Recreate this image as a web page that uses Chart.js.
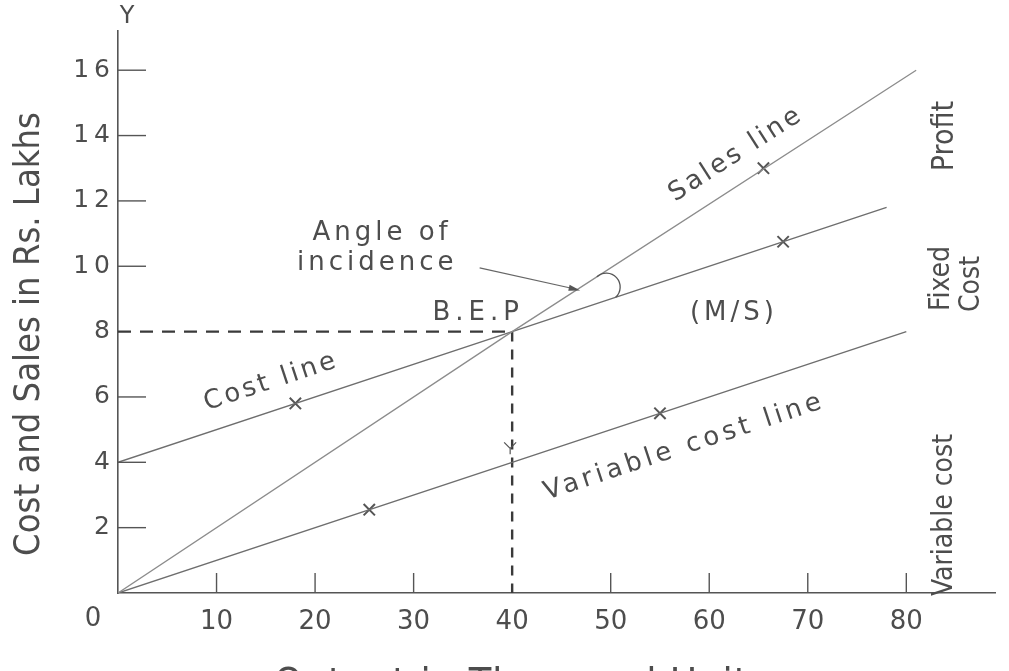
<!DOCTYPE html>
<html>
<head>
<meta charset="utf-8">
<script src="https://cdn.jsdelivr.net/npm/chart.js@4.4.1/dist/chart.umd.min.js"></script>
<style>
  html, body { margin: 0; background: #fff; }
  #wrap { width: 1009px; height: 671px; }
</style>
</head>
<body>
<div id="wrap"><canvas id="bep"></canvas></div>
<script>
// Break-even chart: output (thousand units) vs cost and sales (Rs. lakhs)
const salesX = [0, 40, 81];
const salesY = [0, 8, 16];
const costX = [0, 40, 78];
const costY = [4, 8, 11.8];
const varCostX = [0, 40, 80];
const varCostY = [0, 4, 8];
const bepPoint = [40, 8];
const markX = [18, 67.5, 65.5, 25.5, 55];
const markY = [5.8, 10.75, 13, 2.55, 5.5];
const xTickLabels = [10, 20, 30, 40, 50, 60, 70, 80];
const yTickLabels = [2, 4, 6, 8, 10, 12, 14, 16];

const ink = '#4d4d4d';
const narrow = '"Liberation Sans Narrow", "DejaVu Sans Condensed", "Liberation Sans", sans-serif';
const wide = '"DejaVu Sans", sans-serif';

const pts = (xs, ys) => xs.map((v, i) => ({ x: v, y: ys[i] }));

// draws one piece of text, optionally rotated, with letter spacing
function text(ctx, s, x, y, opt) {
  ctx.save();
  ctx.translate(x, y);
  ctx.rotate(((opt.angle || 0) * Math.PI) / 180);
  ctx.font = opt.font;
  ctx.fillStyle = opt.color || ink;
  ctx.textAlign = opt.align || 'center';
  ctx.textBaseline = opt.baseline || 'middle';
  ctx.letterSpacing = (opt.spacing || 0) + 'px';
  let dx = 0;
  if ((opt.align || 'center') === 'center') dx = (opt.spacing || 0) / 2;
  if (opt.align === 'right') dx = opt.spacing || 0;
  ctx.fillText(s, dx, 0);
  ctx.restore();
}

const overlay = {
  id: 'overlay',
  afterDraw(chart) {
    const { ctx, chartArea: a } = chart;
    const xs = chart.scales.x, ys = chart.scales.y;
    const px = v => xs.getPixelForValue(v);
    const py = v => ys.getPixelForValue(v);

    ctx.save();
    ctx.strokeStyle = '#555';
    ctx.lineWidth = 1.4;
    ctx.lineCap = 'butt';

    // tick marks drawn inside the plot
    yTickLabels.forEach(v => {
      if (v === 8) return;
      ctx.beginPath();
      ctx.moveTo(a.left, py(v));
      ctx.lineTo(a.left + 28, py(v));
      ctx.stroke();
    });
    xTickLabels.forEach(v => {
      ctx.beginPath();
      ctx.moveTo(px(v), a.bottom);
      ctx.lineTo(px(v), a.bottom - (v === 40 ? 0 : 20));
      ctx.stroke();
    });

    // y tick labels, spaced out as in the print
    yTickLabels.forEach(v => {
      text(ctx, String(v), a.left - 8, py(v), { font: '25px ' + wide, align: 'right', spacing: 5 });
    });
    text(ctx, '0', a.left - 25, a.bottom + 26, { font: '26px ' + wide });
    text(ctx, 'Y', a.left + 9, 17, { font: '24px ' + wide });

    // axis titles
    text(ctx, 'Cost and Sales in Rs. Lakhs', 30, 334, { font: '36px ' + narrow, angle: -90 });
    text(ctx, 'Output in Thousand Units', 521, 697, { font: '41px ' + narrow, baseline: 'alphabetic', spacing: 1 });

    // line labels
    const slope = (x0, y0, x1, y1) => (Math.atan2(py(y1) - py(y0), px(x1) - px(x0)) * 180) / Math.PI;
    const salesAng = slope(salesX[1], salesY[1], salesX[2], salesY[2]);
    const costAng = slope(costX[0], costY[0], costX[2], costY[2]);
    const varAng = slope(varCostX[0], varCostY[0], varCostX[2], varCostY[2]);
    const lbl = '26px ' + wide;
    text(ctx, 'Sales line', px(62.6), py(13.4), { font: lbl, angle: salesAng, spacing: 3 });
    text(ctx, 'Cost line', px(15.4), py(6.45), { font: lbl, angle: costAng, spacing: 3 });
    text(ctx, 'Variable cost line', px(57.3), py(4.45), { font: lbl, angle: varAng, spacing: 4 });
    text(ctx, 'Angle of', px(26.6), py(11.0), { font: lbl, spacing: 4 });
    text(ctx, 'incidence', px(26.1), py(10.1), { font: lbl, spacing: 4 });
    text(ctx, 'B.E.P', px(36.3), py(8.55), { font: lbl, spacing: 5 });
    text(ctx, '(M/S)', px(62.3), py(8.55), { font: lbl, spacing: 4 });

    // right-hand margin labels
    const side = '28px ' + narrow;
    text(ctx, 'Profit', 945, 136, { font: '30px ' + narrow, angle: -90 });
    text(ctx, 'Fixed', 942, 311, { font: side, angle: -90, align: 'left' });
    text(ctx, 'Cost', 972, 312, { font: side, angle: -90, align: 'left' });
    text(ctx, 'Variable cost', 945, 596, { font: side, angle: -90, align: 'left' });

    // angle of incidence pointer with arrow head on the sales line
    const salesAt = v => salesY[1] + (v - salesX[1]) * (salesY[2] - salesY[1]) / (salesX[2] - salesX[1]);
    const costAt = v => costY[1] + (v - costX[1]) * (costY[2] - costY[1]) / (costX[2] - costX[1]);
    const sx = px(36.7), sy = py(9.95);
    const ex = px(46.6), ey = py(salesAt(46.6));
    ctx.strokeStyle = '#666';
    ctx.lineWidth = 1.1;
    ctx.beginPath();
    ctx.moveTo(sx, sy);
    ctx.lineTo(ex, ey);
    ctx.stroke();
    const th = Math.atan2(ey - sy, ex - sx);
    ctx.fillStyle = '#555';
    ctx.beginPath();
    ctx.moveTo(ex + 3, ey + 1);
    ctx.lineTo(ex - 9 * Math.cos(th - 0.35), ey - 9 * Math.sin(th - 0.35));
    ctx.lineTo(ex - 9 * Math.cos(th + 0.35), ey - 9 * Math.sin(th + 0.35));
    ctx.closePath();
    ctx.fill();

    // arc between sales and cost lines
    const p1 = [px(48.6), py(salesAt(48.6))];
    const p2 = [px(50.5), py(costAt(50.5))];
    const mx = (p1[0] + p2[0]) / 2, my = (p1[1] + p2[1]) / 2;
    const r = Math.hypot(p1[0] - p2[0], p1[1] - p2[1]) / 2;
    const a1 = Math.atan2(p1[1] - my, p1[0] - mx);
    ctx.strokeStyle = '#555';
    ctx.lineWidth = 1.3;
    ctx.beginPath();
    ctx.arc(mx, my, r, a1, a1 + Math.PI, false);
    ctx.stroke();

    // small mark on the dashed drop line
    const tx = px(bepPoint[0]) - 2, tyv = py(4) - 14;
    ctx.lineWidth = 1.2;
    ctx.beginPath();
    ctx.moveTo(tx - 6, tyv - 6);
    ctx.lineTo(tx, tyv);
    ctx.lineTo(tx + 6, tyv - 6);
    ctx.moveTo(tx, tyv);
    ctx.lineTo(tx, tyv + 6);
    ctx.stroke();

    ctx.restore();
  }
};

new Chart(document.getElementById('bep'), {
  type: 'line',
  data: {
    datasets: [
      { label: 'Sales line', data: pts(salesX, salesY), borderColor: '#8c8c8c', borderWidth: 1.3 },
      { label: 'Cost line', data: pts(costX, costY), borderColor: '#6e6e6e', borderWidth: 1.4 },
      { label: 'Variable cost line', data: pts(varCostX, varCostY), borderColor: '#6e6e6e', borderWidth: 1.4 },
      {
        label: 'BEP level',
        data: [{ x: 0, y: bepPoint[1] }, { x: bepPoint[0], y: bepPoint[1] }],
        borderColor: '#3a3a3a', borderWidth: 2.4, borderDash: [13, 9]
      },
      {
        label: 'BEP output',
        data: [{ x: bepPoint[0], y: bepPoint[1] }, { x: bepPoint[0], y: 0 }],
        borderColor: '#3a3a3a', borderWidth: 2.4, borderDash: [10, 8]
      },
      {
        label: 'plotted points',
        data: pts(markX, markY),
        showLine: false,
        pointStyle: 'crossRot',
        pointRadius: 8,
        pointBorderWidth: 2,
        pointBorderColor: '#555'
      }
    ]
  },
  options: {
    responsive: true,
    maintainAspectRatio: false,
    animation: false,
    elements: { point: { radius: 0, hoverRadius: 0 }, line: { tension: 0 } },
    layout: { padding: { top: 31, right: 14, left: 0, bottom: 0 } },
    plugins: { legend: { display: false }, tooltip: { enabled: false } },
    scales: {
      x: {
        type: 'linear',
        min: 0,
        max: 89,
        border: { display: true, color: '#555', width: 1.6 },
        grid: { display: false, drawTicks: false },
        ticks: {
          stepSize: 10,
          includeBounds: false,
          autoSkip: false,
          maxRotation: 0,
          padding: 14,
          color: ink,
          font: { family: wide, size: 26 },
          callback: v => (xTickLabels.includes(v) ? String(v) : '')
        },
        afterFit(s) { s.height = 78; }
      },
      y: {
        type: 'linear',
        min: 0,
        max: 17.2,
        border: { display: true, color: '#555', width: 1.6 },
        grid: { display: false, drawTicks: false },
        ticks: { display: false },
        afterFit(s) { s.width = 118; }
      }
    }
  },
  plugins: [overlay]
});
</script>
</body>
</html>
